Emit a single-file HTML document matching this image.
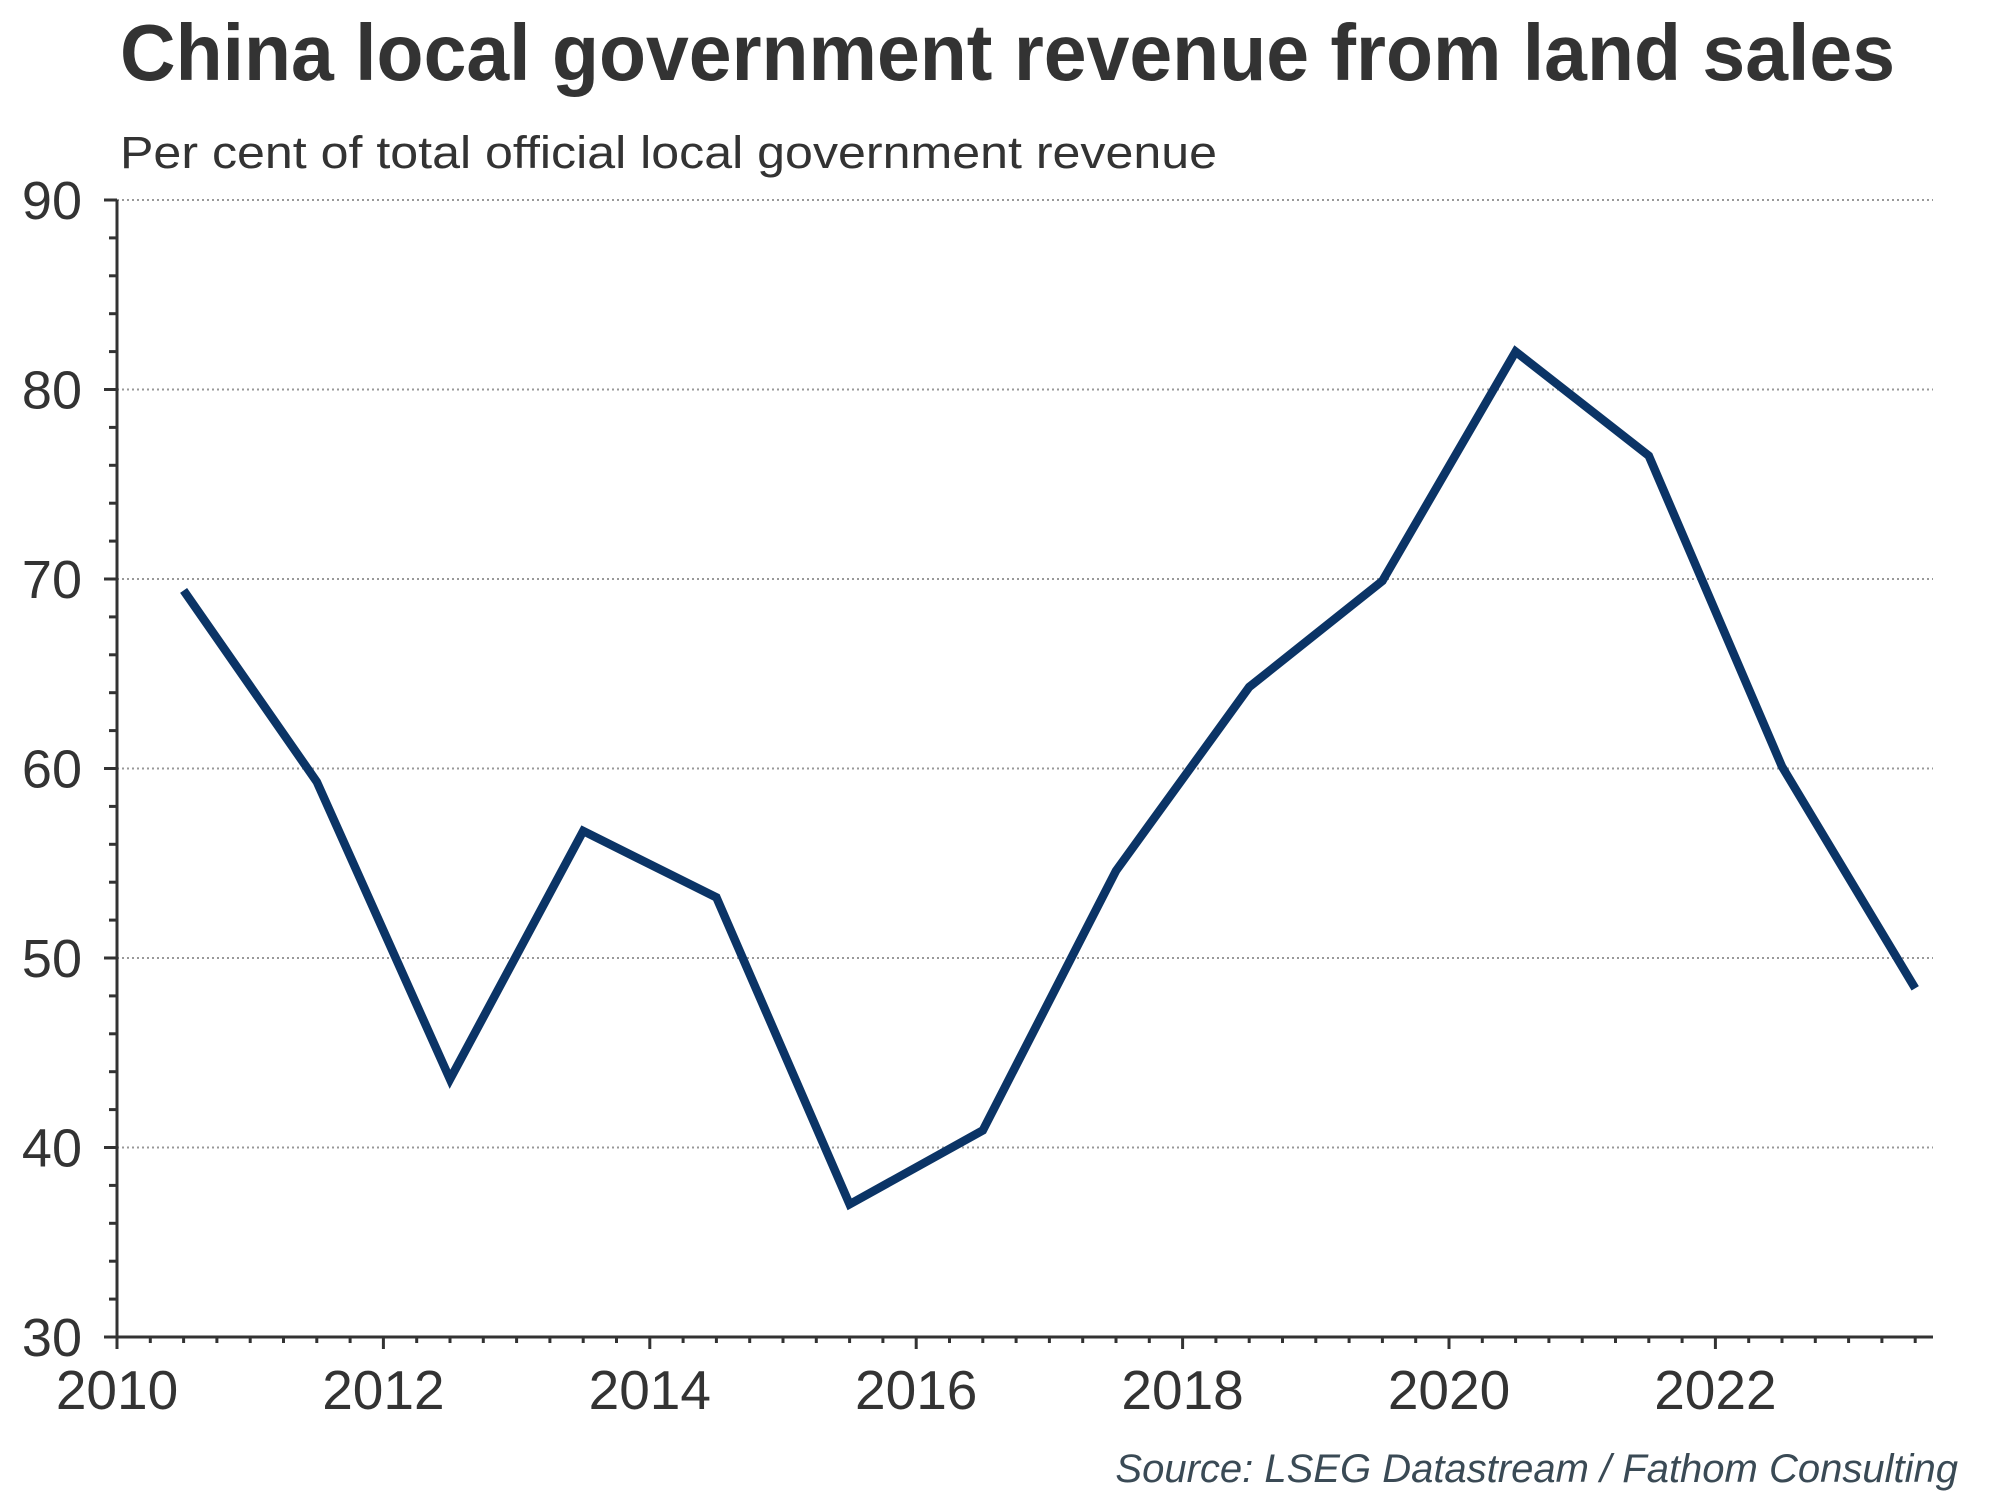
<!DOCTYPE html>
<html><head><meta charset="utf-8"><style>
html,body{margin:0;padding:0;background:#fff}
svg{display:block}
text{font-family:"Liberation Sans",Arial,sans-serif}
</style></head><body>
<svg id="chart" width="2000" height="1500" viewBox="0 0 2000 1500" xmlns="http://www.w3.org/2000/svg">
<text x="120" y="80" font-size="80" font-weight="bold" fill="#333" textLength="1775" lengthAdjust="spacingAndGlyphs">China local government revenue from land sales</text>
<text x="120" y="168" font-size="45" fill="#333" textLength="1097" lengthAdjust="spacingAndGlyphs">Per cent of total official local government revenue</text>
<g id="grid"></g>
<g id="axes"></g>
<g id="series"></g>
<text x="1958" y="1482" font-size="40" font-style="italic" fill="#3a4a55" text-anchor="end">Source: LSEG Datastream / Fathom Consulting</text>
</svg>
<script>
const years = [2010.5,2011.5,2012.5,2013.5,2014.5,2015.5,2016.5,2017.5,2018.5,2019.5,2020.5,2021.5,2022.5,2023.5];
const values = [69.4,59.3,43.6,56.7,53.2,37.0,40.9,54.6,64.3,69.9,82.0,76.5,60.1,48.4];
const yTicks = [30,40,50,60,70,80,90];
const xTicks = [2010,2012,2014,2016,2018,2020,2022];

const NS = "http://www.w3.org/2000/svg";
const X0 = 117, X1 = 1933, Y0 = 1337, YT = 200;
function xs(v){ return X0 + (v - 2010) * 133.2; }
function ys(v){ return Y0 - (v - 30) * (Y0 - YT) / 60; }
function mk(tag, attrs, parent){
  const e = document.createElementNS(NS, tag);
  for (const k in attrs) e.setAttribute(k, attrs[k]);
  parent.appendChild(e); return e;
}
const grid = document.getElementById('grid');
const axes = document.getElementById('axes');
const series = document.getElementById('series');

yTicks.forEach(v => {
  if (v > 30) {
    const g = mk('line', {x1:X0, x2:X1, y1:ys(v), y2:ys(v), stroke:'#999', 'stroke-width':2, 'stroke-dasharray':'2 3'}, grid);
    
    
  }
  const t = mk('text', {x:82, y:ys(v)+19, 'font-size':54, fill:'#333', 'text-anchor':'end'}, axes);
  t.textContent = v;
  
  
});
for (let v = 30; v <= 90; v += 2) {
  const major = (v % 10 === 0);
  mk('line', {x1: major ? 104 : 109, x2: X0, y1: ys(v), y2: ys(v), stroke:'#333', 'stroke-width':3}, axes);
}
for (let q = 0; q <= 13.75 * 4; q++) {
  const yr = 2010 + q / 4;
  const major = (q % 8 === 0);
  const xx = xs(yr);
  if (xx > X1) break;
  mk('line', {x1:xx, x2:xx, y1:Y0, y2: Y0 + (major ? 12 : 6), stroke:'#333', 'stroke-width':3}, axes);
}
xTicks.forEach(v => {
  const t = mk('text', {x:xs(v), y:1409, 'font-size':55, fill:'#333', 'text-anchor':'middle'}, axes);
  t.textContent = v;
  
  
});
const ya = mk('line', {x1:X0, x2:X0, y1:YT, y2:Y0, stroke:'#333', 'stroke-width':3}, axes);


const xa = mk('line', {x1:X0, x2:X1, y1:Y0, y2:Y0, stroke:'#333', 'stroke-width':3}, axes);



const pts = years.map((y, i) => xs(y).toFixed(1) + ',' + ys(values[i]).toFixed(1)).join(' ');
const pl = mk('polyline', {points:pts, fill:'none', stroke:'#0b3466', 'stroke-width':8.5, 'stroke-linejoin':'miter'}, series);


</script>
</body></html>
